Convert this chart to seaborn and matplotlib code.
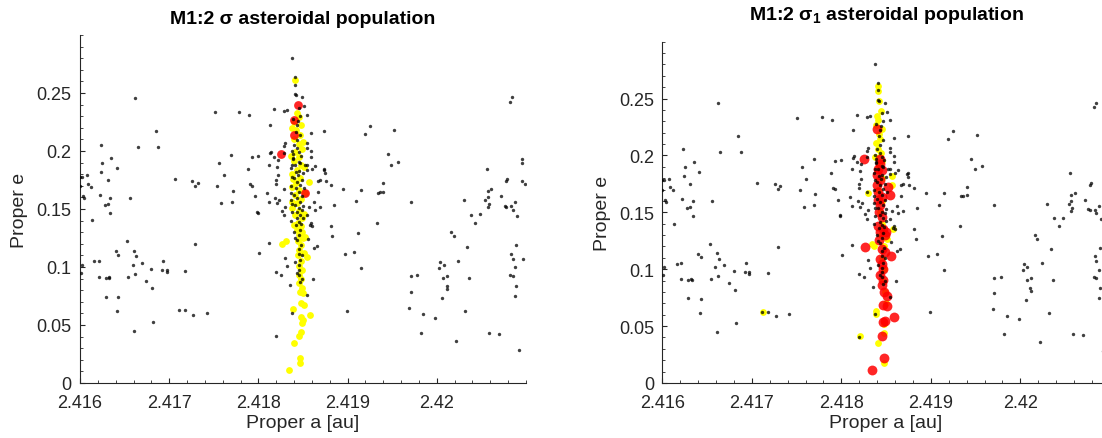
import matplotlib
matplotlib.use("Agg")
import matplotlib.pyplot as plt
import numpy as np
import pandas as pd
import seaborn as sns
from matplotlib.ticker import FixedLocator, FixedFormatter, AutoMinorLocator

# ---------------- data ----------------
# background asteroids (black dots), same in both panels
bg_a = [
    2.41662, 2.41685, 2.41665, 2.41688, 2.41623, 2.41635, 2.41625, 2.41641, 2.41624, 2.41631,
    2.41608, 2.41600, 2.41602, 2.41609, 2.41612, 2.41600, 2.41622, 2.41634, 2.41603, 2.41604,
    2.41628, 2.41631, 2.41656, 2.41706, 2.41726, 2.41732, 2.41729, 2.41751, 2.41778, 2.41790,
    2.41817, 2.41813, 2.41829, 2.41832, 2.41769, 2.41756, 2.41761, 2.41754, 2.41771, 2.41770,
    2.41758, 2.41788, 2.41793, 2.41800, 2.41814, 2.41813, 2.41817, 2.41822, 2.41812, 2.41821,
    2.41822, 2.41820, 2.41820, 2.41791, 2.41793, 2.41796, 2.41810, 2.41819, 2.41823, 2.41812,
    2.41821, 2.41829, 2.41830, 2.41829, 2.41830, 2.41829,
    # upper right quadrant
    2.41838, 2.41925, 2.41919, 2.41952, 2.41874, 2.41859, 2.41945, 2.41957, 2.41949, 2.41940,
    2.41940, 2.41934, 2.41936, 2.41915, 2.41895, 2.41909, 2.41885, 2.41971, 2.41881, 2.41876,
    2.41869, 2.41874, 2.41873, 2.41875, 2.41867, 2.41867, 2.41862, 2.41869, 2.41863, 2.41860,
    2.41859, 2.41859, 2.41854, 2.41849, 2.41851, 2.41854, 2.41847, 2.42056, 2.42057, 2.42061,
    2.42057, 2.42054, 2.42058, 2.42057, 2.42030, 2.41857,
    # lower left quadrant
    2.41613, 2.41634, 2.41653, 2.41640, 2.41643, 2.41661, 2.41663, 2.41659, 2.41669, 2.41662,
    2.41654, 2.41602, 2.41601, 2.41616, 2.41621, 2.41621, 2.41629, 2.41632, 2.41633, 2.41629,
    2.41643, 2.41642, 2.41661, 2.41682, 2.41674, 2.41680, 2.41681, 2.41693, 2.41692, 2.41697,
    2.41697, 2.41718, 2.41729, 2.41711, 2.41718, 2.41727, 2.41742, 2.41798, 2.41799, 2.41826,
    2.41829, 2.41812, 2.41801, 2.41830, 2.41832, 2.41820, 2.41825, 2.41820,
    # lower right quadrant
    2.41881, 2.41883, 2.41912, 2.41933, 2.41897, 2.41907, 2.41915, 2.41899, 2.41861, 2.41866,
    2.41862, 2.41856, 2.41859, 2.41860, 2.41858, 2.41854, 2.41863, 2.41835, 2.41838, 2.41854,
    2.41971, 2.41978, 2.41971, 2.41969, 2.41985, 2.41982, 2.41998, 2.42006, 2.42007, 2.42012,
    2.42011, 2.42012, 2.42003, 2.42004, 2.42008, 2.42024, 2.42016, 2.42019, 2.42034, 2.42036,
    2.42032, 2.42022, 2.42038, 2.42048, 2.42043, 2.42059, 2.42070,
    # right edge
    2.42084, 2.42082, 2.42096, 2.42096, 2.42096, 2.42099, 2.42078, 2.42079, 2.42072, 2.42076,
    2.42078, 2.42083, 2.42085, 2.42088, 2.42090, 2.42089, 2.42083, 2.42085, 2.42097, 2.42088,
    2.42082, 2.42085, 2.42089, 2.42088, 2.42092,
    # resonant column
    2.41841, 2.41841, 2.41841, 2.41842, 2.41845, 2.41839, 2.41844, 2.41843, 2.41842, 2.41847,
    2.41843, 2.41840, 2.41843, 2.41854, 2.41854, 2.41839, 2.41839, 2.41845, 2.41838, 2.41847,
    2.41852, 2.41854, 2.41842, 2.41844, 2.41840, 2.41843, 2.41847, 2.41842, 2.41845, 2.41840,
    2.41843, 2.41847, 2.41841, 2.41845, 2.41843, 2.41847, 2.41843, 2.41845, 2.41842, 2.41847,
    2.41846, 2.41843, 2.41848, 2.41845, 2.41846, 2.41847, 2.41845, 2.41846, 2.41845, 2.41847,
    2.41836, 2.41849, 2.41836, 2.41849, 2.41837, 2.41850, 2.41838, 2.41850, 2.41838, 2.41850,
    2.41836, 2.41851, 2.41839, 2.41848, 2.41838, 2.41846, 2.41841, 2.41846, 2.41838, 2.41849,
    2.41837, 2.41848, 2.41840, 2.41841, 2.41849, 2.41841, 2.41843, 2.41849,
]
bg_e = [
    0.2459, 0.2171, 0.2033, 0.2033, 0.2056, 0.1941, 0.1900, 0.1851, 0.1819, 0.1753,
    0.1797, 0.1780, 0.1780, 0.1719, 0.1693, 0.1698, 0.1618, 0.1598, 0.1612, 0.1594,
    0.1534, 0.1546, 0.1598, 0.1762, 0.1745, 0.1728, 0.1702, 0.2333, 0.2336, 0.2310,
    0.2359, 0.2223, 0.2342, 0.2350, 0.1966, 0.1900, 0.1797, 0.1698, 0.1658, 0.1563,
    0.1551, 0.1849, 0.1949, 0.1961, 0.1995, 0.1981, 0.1946, 0.1926, 0.1883, 0.1866,
    0.1797, 0.1750, 0.1713, 0.1716, 0.1702, 0.1612, 0.1635, 0.1598, 0.1580, 0.1557,
    0.1551, 0.1675, 0.1520, 0.2042, 0.2065, 0.1987,
    0.2803, 0.2212, 0.2148, 0.2183, 0.2171, 0.2154, 0.1970, 0.1906, 0.1880, 0.1724,
    0.1650, 0.1641, 0.1644, 0.1667, 0.1670, 0.1568, 0.1534, 0.1563, 0.1711, 0.1739,
    0.1753, 0.1845, 0.1834, 0.1811, 0.1739, 0.1647, 0.1557, 0.1514, 0.1868, 0.1843,
    0.1998, 0.1946, 0.1883, 0.2463, 0.2385, 0.2313, 0.2299, 0.1848, 0.1656, 0.1670,
    0.1603, 0.1577, 0.1542, 0.1514, 0.1577, 0.1514,
    0.1401, 0.1468, 0.1223, 0.1136, 0.1104, 0.1140, 0.1094, 0.1019, 0.1033, 0.0938,
    0.0917, 0.1021, 0.0952, 0.1049, 0.1053, 0.0915, 0.0908, 0.0915, 0.0906, 0.0744,
    0.0741, 0.0619, 0.0444, 0.0525, 0.0877, 0.0984, 0.0819, 0.1055, 0.0975, 0.0975,
    0.0958, 0.0966, 0.1194, 0.0625, 0.0625, 0.0588, 0.0603, 0.1473, 0.1468, 0.1482,
    0.1444, 0.1209, 0.1122, 0.1078, 0.1012, 0.0954, 0.0928, 0.0407,
    0.1355, 0.1269, 0.1292, 0.1381, 0.1116, 0.1130, 0.0992, 0.0620, 0.0897, 0.1182,
    0.1162, 0.1240, 0.1381, 0.1352, 0.1364, 0.1445, 0.1491, 0.0845, 0.0606, 0.0758,
    0.0920, 0.0931, 0.0787, 0.0646, 0.0591, 0.0427, 0.0559, 0.0730, 0.0903, 0.0920,
    0.0836, 0.0810, 0.0992, 0.1047, 0.1018, 0.1055, 0.1303, 0.1269, 0.1176, 0.0908,
    0.0617, 0.0361, 0.1447, 0.1453, 0.1381, 0.0433, 0.0421,
    0.2465, 0.2425, 0.1929, 0.1900, 0.1741, 0.1713, 0.1741, 0.1756, 0.1612, 0.1528,
    0.1519, 0.1522, 0.1491, 0.1557, 0.1442, 0.1188, 0.1116, 0.1073, 0.1073, 0.0997,
    0.0934, 0.0920, 0.0836, 0.0750, 0.0283,
    0.2636, 0.2572, 0.2490, 0.2480, 0.2370, 0.2278, 0.2261, 0.2226, 0.2168, 0.2134,
    0.2093, 0.2056, 0.2024, 0.2030, 0.2065, 0.1972, 0.1938, 0.1909, 0.1880, 0.1895,
    0.1880, 0.1837, 0.1822, 0.1794, 0.1765, 0.1736, 0.1707, 0.1678, 0.1650, 0.1621,
    0.1592, 0.1563, 0.1534, 0.1505, 0.1476, 0.1448, 0.1419, 0.1390, 0.1361, 0.1318,
    0.1275, 0.1232, 0.1188, 0.1159, 0.1116, 0.1058, 0.1015, 0.0972, 0.0928, 0.0871,
    0.1850, 0.1750, 0.1700, 0.1610, 0.1580, 0.1530, 0.1470, 0.1420, 0.1780, 0.1810,
    0.1640, 0.1680, 0.1930, 0.1960, 0.2000, 0.1990, 0.1880, 0.1830, 0.1540, 0.1490,
    0.1400, 0.1370, 0.1300, 0.1250, 0.1100, 0.1040, 0.0950, 0.0900,
]

# M1:2 sigma population (yellow, left panel)
sig_a = [
    2.41841, 2.41843, 2.41846, 2.41840, 2.41848, 2.41842, 2.41847, 2.41840, 2.41845, 2.41849,
    2.41841, 2.41846, 2.41840, 2.41848, 2.41843, 2.41838, 2.41847, 2.41857, 2.41842, 2.41838,
    2.41846, 2.41841, 2.41848, 2.41843, 2.41838, 2.41846, 2.41841, 2.41849, 2.41844, 2.41848,
    2.41843, 2.41849, 2.41845, 2.41850, 2.41844, 2.41826, 2.41831, 2.41848, 2.41846, 2.41851,
    2.41844, 2.41855, 2.41848, 2.41846, 2.41849, 2.41845, 2.41848, 2.41846, 2.41849, 2.41847,
    2.41850, 2.41848, 2.41851, 2.41839, 2.41858, 2.41848, 2.41849, 2.41850, 2.41848, 2.41845,
    2.41840, 2.41847, 2.41847, 2.41834,
    2.41838, 2.41850, 2.41837, 2.41851, 2.41839, 2.41852, 2.41838, 2.41851, 2.41840, 2.41852,
]
sig_e = [
    0.2615, 0.2330, 0.2290, 0.2250, 0.2220, 0.2180, 0.2140, 0.2100, 0.2060, 0.2020,
    0.1990, 0.1950, 0.1910, 0.1880, 0.1840, 0.1800, 0.1770, 0.1736, 0.1720, 0.1690,
    0.1660, 0.1620, 0.1590, 0.1550, 0.1510, 0.1480, 0.1450, 0.1420, 0.1380, 0.1350,
    0.1320, 0.1300, 0.1280, 0.1250, 0.1220, 0.1194, 0.1222, 0.1190, 0.1150, 0.1120,
    0.1100, 0.1090, 0.1050, 0.1010, 0.0970, 0.0930, 0.0900, 0.0860, 0.0820, 0.0784,
    0.0780, 0.0689, 0.0675, 0.0640, 0.0582, 0.0565, 0.0516, 0.0540, 0.0441, 0.0406,
    0.0349, 0.0219, 0.0173, 0.0115,
    0.2200, 0.2080, 0.1960, 0.1860, 0.1760, 0.1640, 0.1560, 0.1460, 0.1360, 0.1260,
]
# highlighted members (red, left panel)
red1_a = [2.41844, 2.41840, 2.41840, 2.41825, 2.41852]
red1_e = [0.2397, 0.2264, 0.2137, 0.1972, 0.1638]

# M1:2 sigma_1 population (yellow, right panel)
sig1_a = [
    2.41841, 2.41841, 2.41842, 2.41844, 2.41840, 2.41841, 2.41839, 2.41845, 2.41842, 2.41843,
    2.41839, 2.41841, 2.41844, 2.41838, 2.41845, 2.41857, 2.41857, 2.41830, 2.41858, 2.41834,
    2.41837, 2.41839, 2.41839, 2.41821, 2.41841, 2.41848, 2.41848, 2.41712,
    2.41842, 2.41845, 2.41841, 2.41846, 2.41843, 2.41846, 2.41844, 2.41848, 2.41846, 2.41848,
    2.41847, 2.41849, 2.41850, 2.41848, 2.41851,
]
sig1_e = [
    0.2611, 0.2564, 0.2476, 0.2388, 0.2350, 0.2309, 0.2265, 0.2236, 0.2190, 0.2148,
    0.2110, 0.2060, 0.2020, 0.1990, 0.1950, 0.1816, 0.1737, 0.1670, 0.1357, 0.1224,
    0.1203, 0.0636, 0.0607, 0.0411, 0.0349, 0.0176, 0.0440, 0.0620,
    0.1900, 0.1800, 0.1700, 0.1600, 0.1500, 0.1400, 0.1300, 0.1200, 0.1100, 0.1000,
    0.0900, 0.0800, 0.0700, 0.0520, 0.1270,
]
# highlighted members (red, right panel)
red2_a = [
    2.41840, 2.41825, 2.41843, 2.41843, 2.41841, 2.41845, 2.41840, 2.41843, 2.41840, 2.41852,
    2.41854, 2.41841, 2.41845, 2.41841, 2.41843, 2.41842, 2.41845, 2.41847, 2.41843, 2.41849,
    2.41842, 2.41826, 2.41845, 2.41849, 2.41855, 2.41843, 2.41845, 2.41847, 2.41843, 2.41847,
    2.41845, 2.41848, 2.41851, 2.41847, 2.41851, 2.41859, 2.41847, 2.41849, 2.41846, 2.41848,
    2.41834, 2.41841, 2.41850,
]
red2_e = [
    0.2236, 0.1972, 0.1972, 0.1928, 0.1884, 0.1869, 0.1825, 0.1781, 0.1737, 0.1722,
    0.1649, 0.1678, 0.1634, 0.1605, 0.1561, 0.1502, 0.1458, 0.1356, 0.1326, 0.1297,
    0.1253, 0.1194, 0.1180, 0.1150, 0.1115, 0.1092, 0.1048, 0.1004, 0.0945, 0.0901,
    0.0857, 0.0798, 0.0769, 0.0687, 0.0681, 0.0584, 0.0534, 0.0549, 0.0411, 0.0217,
    0.0115, 0.1380, 0.1330,
]

x_ticks = [2.416, 2.417, 2.418, 2.419, 2.420]
x_ticklabels = ["2.416", "2.417", "2.418", "2.419", "2.42"]
y_ticks = [0, 0.05, 0.10, 0.15, 0.20, 0.25]
y_ticklabels = ["0", "0.05", "0.1", "0.15", "0.2", "0.25"]
titles = ["M1:2 \u03c3 asteroidal population", "M1:2 \u03c3$_1$ asteroidal population"]

# ---------------- style ----------------
sns.set_theme(style="white")
plt.rcParams["font.family"] = ["Liberation Sans", "DejaVu Sans"]
plt.rcParams["mathtext.fontset"] = "custom"
plt.rcParams["mathtext.rm"] = "Liberation Sans:bold"
plt.rcParams["mathtext.it"] = "Liberation Sans:bold"
plt.rcParams["mathtext.bf"] = "Liberation Sans:bold"

AX_COL = "#262626"

fig = plt.figure(figsize=(11.02, 4.39), dpi=100)
ax1 = fig.add_axes([0.0726, 0.1253, 0.4047, 0.7927])
ax2 = fig.add_axes([0.6010, 0.1253, 0.4061, 0.7775])

bg = pd.DataFrame({"a": bg_a, "e": bg_e})
panels = [
    (ax1, pd.DataFrame({"a": sig_a, "e": sig_e}), pd.DataFrame({"a": red1_a, "e": red1_e}), 40, titles[0], 8.5),
    (ax2, pd.DataFrame({"a": sig1_a, "e": sig1_e}), pd.DataFrame({"a": red2_a, "e": red2_e}), 50, titles[1], 16),
]

for ax, yel, red, rsize, title, tpad in panels:
    sns.scatterplot(data=yel, x="a", y="e", ax=ax, color="#ffff00", s=24,
                    linewidth=0, alpha=1.0, zorder=2, legend=False)
    sns.scatterplot(data=red, x="a", y="e", ax=ax, color="#ff0000", s=rsize,
                    linewidth=0, alpha=0.85, zorder=3, legend=False)
    sns.scatterplot(data=bg, x="a", y="e", ax=ax, color="black", s=6,
                    linewidth=0, alpha=0.75, zorder=4, legend=False)

    ax.set_xlim(2.416, 2.421)
    ax.set_ylim(0, 0.3)
    ax.xaxis.set_major_locator(FixedLocator(x_ticks))
    ax.xaxis.set_major_formatter(FixedFormatter(x_ticklabels))
    ax.yaxis.set_major_locator(FixedLocator(y_ticks))
    ax.yaxis.set_major_formatter(FixedFormatter(y_ticklabels))
    ax.xaxis.set_minor_locator(AutoMinorLocator(5))
    ax.yaxis.set_minor_locator(AutoMinorLocator(5))

    for side in ["top", "right"]:
        ax.spines[side].set_visible(False)
    for side in ["left", "bottom"]:
        ax.spines[side].set_color(AX_COL)
        ax.spines[side].set_linewidth(0.8)

    ax.tick_params(which="both", direction="in", color=AX_COL, labelcolor=AX_COL,
                   labelsize=13, bottom=True, left=True, top=False, right=False)
    ax.tick_params(which="major", length=3.5, width=0.8)
    ax.tick_params(which="minor", length=2.0, width=0.6)
    ax.tick_params(axis="x", which="major", pad=8)
    ax.tick_params(axis="y", which="major", pad=6)

    ax.set_xlabel("Proper a [au]", fontsize=14, color=AX_COL, labelpad=2)
    ax.set_ylabel("Proper e", fontsize=14, color=AX_COL, labelpad=6)
    ax.set_title(title, fontsize=14, fontweight="bold", color="black", pad=tpad)
    ax.grid(False)

fig.savefig("out.png", dpi=100)
